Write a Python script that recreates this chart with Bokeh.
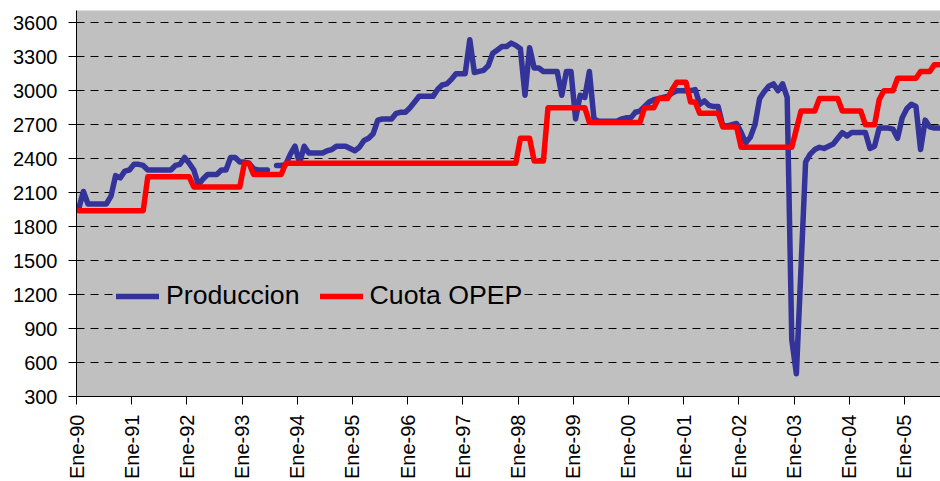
import math
from bokeh.plotting import figure
from bokeh.models import Range1d, FixedTicker, Legend, LegendItem
from bokeh.embed import file_html
from bokeh.resources import INLINE

# ---------------- data (monthly, Ene-1990 .. Ago-2005) ----------------
tick_labels = ["Ene-90", "Ene-91", "Ene-92", "Ene-93", "Ene-94", "Ene-95", "Ene-96", "Ene-97",
               "Ene-98", "Ene-99", "Ene-00", "Ene-01", "Ene-02", "Ene-03", "Ene-04", "Ene-05"]
y_ticks = [300, 600, 900, 1200, 1500, 1800, 2100, 2400, 2700, 3000, 3300, 3600]
NaN = float("nan")

produccion = [
    1960, 2110, 2000, 2000, 2000, 2000, 2000, 2070, 2250, 2230, 2290, 2300,   # 1990
    2350, 2350, 2340, 2300, 2300, 2300, 2300, 2300, 2300, 2340, 2350, 2410,   # 1991
    2360, 2300, 2170, 2220, 2260, 2260, 2260, 2300, 2300, 2410, 2410, 2370,   # 1992
    2370, 2360, 2310, 2300, 2300, 2300, NaN, 2340, 2340, 2350, 2440, 2510,    # 1993
    2360, 2510, 2450, 2450, 2450, 2450, 2470, 2480, 2510, 2510, 2510, 2490,   # 1994
    2470, 2500, 2560, 2580, 2620, 2740, 2750, 2750, 2750, 2800, 2810, 2810,   # 1995
    2850, 2900, 2950, 2950, 2950, 2950, 3010, 3050, 3060, 3100, 3150, 3150,   # 1996
    3150, 3450, 3160, 3170, 3180, 3220, 3330, 3360, 3390, 3390, 3420, 3400,   # 1997
    3370, 2960, 3380, 3200, 3200, 3170, 3170, 3170, 3170, 2960, 3170, 3170,   # 1998
    2750, 2960, 2940, 3170, 2750, 2730, 2730, 2730, 2730, 2730, 2750, 2760,   # 1999
    2760, 2810, 2820, 2860, 2900, 2920, 2930, 2940, 2950, 2980, 3000, 3000,   # 2000
    3000, 3000, 3010, 2880, 2910, 2870, 2860, 2860, 2690, 2690, 2700, 2710,   # 2001
    2630, 2540, 2590, 2700, 2930, 2990, 3040, 3060, 3000, 3060, 2940, 800,    # 2002
    500, 1430, 2370, 2440, 2480, 2500, 2490, 2510, 2530, 2580, 2630, 2600,    # 2003
    2630, 2630, 2630, 2630, 2490, 2510, 2670, 2670, 2670, 2660, 2580, 2760,   # 2004
    2840, 2880, 2860, 2480, 2740, 2680, 2670, 2670,                           # 2005
]

cuota_opep = [
    1940, 1940, 1940, 1940, 1940, 1940, 1940, 1940, 1940, 1940, 1940, 1940,   # 1990
    1940, 1940, 1940, 2240, 2240, 2240, 2240, 2240, 2240, 2240, 2240, 2240,   # 1991
    2240, 2150, 2150, 2150, 2150, 2150, 2150, 2150, 2150, 2150, 2150, 2150,   # 1992
    2360, 2360, 2260, 2260, 2260, 2260, 2260, 2260, 2260, 2360, 2360, 2360,   # 1993
    2360, 2360, 2360, 2360, 2360, 2360, 2360, 2360, 2360, 2360, 2360, 2360,   # 1994
    2360, 2360, 2360, 2360, 2360, 2360, 2360, 2360, 2360, 2360, 2360, 2360,   # 1995
    2360, 2360, 2360, 2360, 2360, 2360, 2360, 2360, 2360, 2360, 2360, 2360,   # 1996
    2360, 2360, 2360, 2360, 2360, 2360, 2360, 2360, 2360, 2360, 2360, 2360,   # 1997
    2580, 2580, 2580, 2380, 2380, 2380, 2850, 2850, 2850, 2850, 2850, 2850,   # 1998
    2850, 2850, 2850, 2720, 2720, 2720, 2720, 2720, 2720, 2720, 2720, 2720,   # 1999
    2720, 2720, 2720, 2850, 2850, 2850, 2930, 2930, 2930, 3010, 3075, 3075,   # 2000
    3075, 2900, 2900, 2800, 2800, 2800, 2800, 2800, 2680, 2680, 2680, 2680,   # 2001
    2500, 2500, 2500, 2500, 2500, 2500, 2500, 2500, 2500, 2500, 2500, 2500,   # 2002
    2660, 2820, 2820, 2820, 2820, 2930, 2930, 2930, 2930, 2930, 2820, 2820,   # 2003
    2820, 2820, 2820, 2700, 2700, 2700, 2920, 3000, 3000, 3000, 3110, 3110,   # 2004
    3110, 3110, 3110, 3170, 3170, 3170, 3230, 3230,                           # 2005
]

# month slots: each value sits in the middle of its month
months = [i + 0.5 for i in range(len(produccion))]
tick_pos = [12 * i for i in range(len(tick_labels))]

# ---------------- figure ----------------
FONT = "Liberation Sans"
p = figure(width=940, height=481, output_backend="svg", toolbar_location=None,
           x_range=Range1d(0, 187.83), y_range=Range1d(300, 3708),
           min_border_left=76, min_border_right=0, min_border_top=10, min_border_bottom=85)
p.background_fill_color = "#C0C0C0"
p.border_fill_color = "white"
p.outline_line_color = None

p.xgrid.visible = False
p.ygrid.ticker = FixedTicker(ticks=y_ticks)
p.ygrid.grid_line_color = "black"
p.ygrid.grid_line_width = 1
p.ygrid.grid_line_dash = "8 6"

p.yaxis.ticker = FixedTicker(ticks=y_ticks)
p.xaxis.ticker = FixedTicker(ticks=tick_pos)
p.xaxis.major_label_overrides = {pos: lab for pos, lab in zip(tick_pos, tick_labels)}
p.xaxis.major_label_orientation = math.pi / 2

for ax in (p.xaxis[0], p.yaxis[0]):
    ax.axis_line_color = "black"
    ax.axis_line_width = 1
    ax.major_tick_line_color = "black"
    ax.major_tick_in = 0
    ax.major_tick_out = 8
    ax.minor_tick_line_color = None
    ax.major_label_text_font = FONT
    ax.major_label_text_font_size = "20px"
    ax.major_label_text_color = "black"
p.yaxis.major_label_standoff = 11
p.xaxis.major_label_standoff = 10

r1 = p.line(months, produccion, line_color="#333399", line_width=5.5,
            line_join="round", line_cap="round")
r2 = p.line(months, cuota_opep, line_color="#FF0000", line_width=5.5,
            line_join="round", line_cap="round")

legend = Legend(items=[LegendItem(label="Produccion", renderers=[r1]),
                       LegendItem(label="Cuota OPEP", renderers=[r2])],
                location=(40, 85), orientation="horizontal",
                background_fill_color="#C0C0C0", background_fill_alpha=1.0,
                border_line_color=None,
                label_text_font=FONT, label_text_font_size="26.7px",
                label_text_color="black",
                glyph_width=43, label_standoff=7, spacing=20, padding=8, margin=0)
p.add_layout(legend)

open("out.html", "w").write(file_html(p, INLINE))
